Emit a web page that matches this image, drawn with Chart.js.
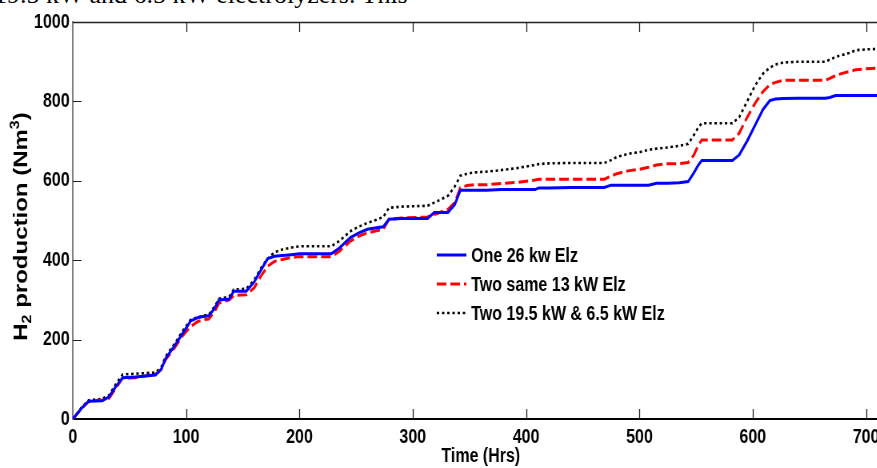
<!DOCTYPE html>
<html>
<head>
<meta charset="utf-8">
<script src="https://cdn.jsdelivr.net/npm/chart.js@4.4.1/dist/chart.umd.min.js"></script>
<style>
  html, body { margin: 0; padding: 0; background: #fff; overflow: hidden; width: 877px; height: 468px; }
  #caption { position: absolute; left: -6px; top: -18px; font: 26px "Liberation Serif", "Times New Roman", serif; line-height: 26px; white-space: nowrap; color: #000; }
  #wrap { position: absolute; left: 0; top: 0; transform: scaleX(0.8); transform-origin: 0 0; }
</style>
</head>
<body>
<div id="caption">19.5 kW and 6.5 kW electrolyzers. This</div>
<div id="wrap"><canvas id="graph" width="1116" height="468"></canvas></div>
<script>
// time axis (hours) shared by the three runs
var hours = [0, 8, 14, 26, 32, 38, 44, 55, 73, 78, 82, 90, 97, 104, 110, 115, 120, 125, 129, 138,
    142, 153, 160, 166, 172, 178, 185, 193, 200, 228, 235, 245, 252, 260, 268, 274, 279, 290, 313, 319,
    331, 337, 342, 348, 354, 365, 378, 392, 408, 411, 420, 440, 469, 475, 480, 490, 500, 508, 515, 525,
    535, 543, 548, 552, 555, 558, 582, 588, 595, 602, 609, 615, 620, 627, 640, 655, 664, 668, 673, 678,
    685, 691, 700, 715];

// H2 production (Nm3)
var oneElz = [0, 28, 45, 46, 56, 82, 104, 106, 111, 125, 153, 185, 216, 247, 255, 258, 260, 278, 300, 302,
    322, 322, 345, 375, 404, 410, 412, 414, 416, 416, 430, 457, 468, 478, 482, 484, 503, 505, 505, 520,
    520, 540, 576, 576, 576, 576, 578, 578, 578, 582, 582, 583, 583, 589, 589, 589, 589, 589, 594, 594,
    595, 598, 620, 640, 651, 651, 651, 665, 700, 740, 780, 802, 806, 807, 808, 808, 808, 810, 815, 815,
    815, 815, 815, 815];
var twoSameElz = [0, 27, 44, 48, 52, 78, 103, 104, 113, 125, 150, 180, 210, 233, 245, 250, 252, 270, 292, 300,
    311, 313, 330, 360, 385, 397, 402, 407, 409, 409, 422, 448, 460, 469, 474, 478, 503, 506, 509, 515,
    528, 545, 583, 588, 590, 590, 593, 596, 602, 604, 604, 604, 604, 612, 618, 625, 629, 634, 640, 643,
    643, 646, 665, 690, 703, 703, 703, 720, 760, 795, 825, 842, 848, 853, 853, 853, 853, 858, 865, 870,
    875, 880, 882, 885];
var twoMixedElz = [0, 30, 47, 51, 60, 88, 112, 114, 117, 130, 158, 190, 222, 250, 256, 260, 263, 283, 303, 308,
    326, 328, 350, 380, 404, 420, 427, 432, 435, 435, 448, 473, 484, 494, 502, 509, 532, 535, 537, 545,
    562, 585, 613, 618, 621, 623, 627, 632, 640, 642, 644, 645, 645, 652, 660, 668, 672, 678, 681, 684,
    688, 693, 715, 735, 745, 745, 745, 760, 800, 840, 870, 885, 893, 898, 900, 900, 900, 905, 912, 916,
    922, 929, 931, 933];

var seriesLabels = ["One 26 kw Elz", "Two same 13 kW Elz", "Two 19.5 kW & 6.5 kW Elz"];

function points(values) {
    return values.map(function(v, i) { return {x: hours[i], y: v}; });
}

var font = "'Liberation Sans', Arial, sans-serif";

// inward tick marks, top frame line, legend and y title (with sub/superscript)
var frame = {
    id: "frame",
    afterDraw: function(chart) {
        var ctx = chart.ctx;
        var a = chart.chartArea;
        var x = chart.scales.x, y = chart.scales.y;
        ctx.save();
        ctx.strokeStyle = "#222";
        ctx.lineWidth = 1.3;
        ctx.beginPath();
        ctx.moveTo(a.left, a.top + 0.5);
        ctx.lineTo(a.right, a.top + 0.5);
        x.ticks.forEach(function(t) {
            if (t.value === 0) return;
            var px = Math.round(x.getPixelForValue(t.value)) + 0.5;
            ctx.moveTo(px, a.bottom);
            ctx.lineTo(px, a.bottom - 10);
            ctx.moveTo(px, a.top);
            ctx.lineTo(px, a.top + 10);
        });
        ctx.stroke();
        ctx.lineWidth = 1;
        ctx.beginPath();
        y.ticks.forEach(function(t) {
            if (t.value === 0 || t.value === 1000) return;
            var py = Math.round(y.getPixelForValue(t.value)) + 0.5;
            ctx.moveTo(a.left, py);
            ctx.lineTo(a.left + 11, py);
        });
        ctx.stroke();

        // legend
        var rows = [255, 284, 313];
        chart.data.datasets.forEach(function(ds, i) {
            ctx.strokeStyle = ds.borderColor;
            ctx.lineWidth = ds.borderWidth;
            ctx.setLineDash(ds.borderDash || []);
            ctx.beginPath();
            ctx.moveTo(546, rows[i]);
            ctx.lineTo(583, rows[i]);
            ctx.stroke();
            ctx.setLineDash([]);
            ctx.fillStyle = "#000";
            ctx.font = "bold 20px " + font;
            ctx.textBaseline = "middle";
            ctx.textAlign = "left";
            ctx.fillText(ds.label, 589, rows[i] + 1);
        });

        // y axis title
        var parts = [["H", 24, 0], ["2", 16, 5], [" production (Nm", 24, 0], ["3", 16, -10], [")", 24, 0]];
        var w = 0;
        parts.forEach(function(p) { ctx.font = "bold " + p[1] + "px " + font; w += ctx.measureText(p[0]).width; });
        ctx.translate(34, (a.top + a.bottom) / 2 + 6);
        ctx.rotate(-Math.PI / 2);
        ctx.textBaseline = "alphabetic";
        ctx.fillStyle = "#000";
        var cx = -w / 2;
        parts.forEach(function(p) {
            ctx.font = "bold " + p[1] + "px " + font;
            ctx.fillText(p[0], cx, p[2]);
            cx += ctx.measureText(p[0]).width;
        });
        ctx.restore();
    }
};

var chart = new Chart(document.getElementById("graph").getContext("2d"), {
    type: "line",
    data: {
        datasets: [
            { label: seriesLabels[0], data: points(oneElz), borderColor: "#0000ff", borderWidth: 3, pointRadius: 0, fill: false },
            { label: seriesLabels[1], data: points(twoSameElz), borderColor: "#ff0000", borderWidth: 3, borderDash: [12, 5], pointRadius: 0, fill: false },
            { label: seriesLabels[2], data: points(twoMixedElz), borderColor: "#000000", borderWidth: 2.6, borderDash: [3, 3.5], pointRadius: 0, fill: false }
        ]
    },
    options: {
        responsive: false,
        animation: false,
        layout: { padding: { top: 22, right: 5, bottom: 0, left: 0 } },
        plugins: { legend: { display: false }, tooltip: { enabled: false } },
        scales: {
            x: {
                type: "linear",
                min: 0,
                max: 720,
                grid: { display: false, drawTicks: false },
                border: { display: true, color: "#000", width: 2 },
                ticks: { stepSize: 100, includeBounds: false, autoSkip: false, maxRotation: 0, padding: 6, color: "#000", font: { family: font, size: 20, weight: "bold" } },
                title: { display: true, text: "Time (Hrs)", color: "#000", padding: { top: 0, bottom: 0 }, font: { family: font, size: 20, weight: "bold" } },
                afterFit: function(scale) { scale.height = 49; }
            },
            y: {
                min: 0,
                max: 1000,
                grid: { display: false, drawTicks: false },
                border: { display: true, color: "#808080", width: 2 },
                ticks: {
                    stepSize: 200, padding: 4, color: "#000", font: { family: font, size: 20, weight: "bold" },
                    callback: function(v) { return String(v); }
                },
                afterFit: function(scale) { scale.width = 91; }
            }
        }
    },
    plugins: [frame]
});
</script>
</body>
</html>
